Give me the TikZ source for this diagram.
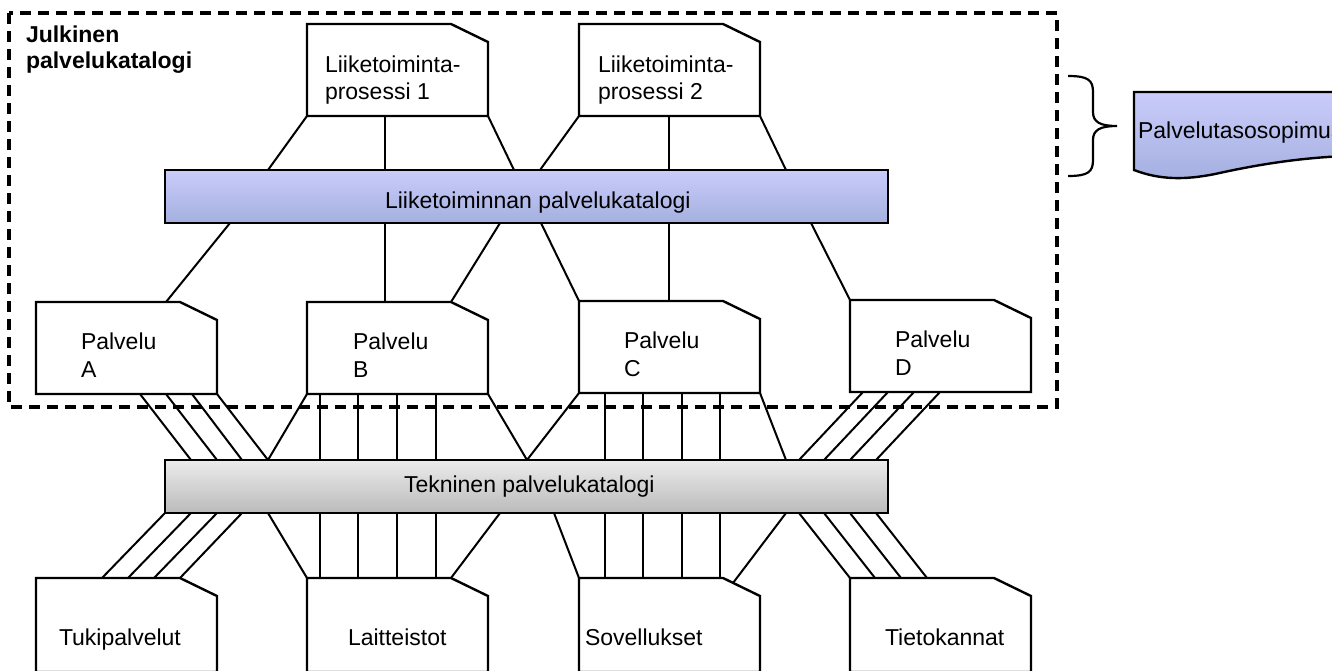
\documentclass[tikz,border=0pt]{standalone}
\usepackage{fontspec}
\setmainfont{Liberation Sans}
\definecolor{blueTop}{RGB}{202,204,250}
\definecolor{blueBot}{RGB}{164,176,224}
\definecolor{grayTop}{RGB}{236,236,236}
\definecolor{grayBot}{RGB}{186,186,186}
% outline of a box with a cut top-right corner, drawn round a holder node
\newcommand\cutframe[1]{%
  \draw[outline] (#1.south west) -- (#1.north west) -- ([xshift=-37]#1.north east)
    -- ([yshift=-18]#1.north east) -- (#1.south east) -- cycle;}
\begin{document}
\begin{tikzpicture}[x=1pt,y=-1pt,
  every node/.style={inner sep=0pt, outer sep=0pt},
  lbl/.style={anchor=base west, font=\fontsize{23}{27}\selectfont},
  ttl/.style={anchor=base west, font=\fontsize{23}{27}\selectfont\bfseries},
  holder/.style={rectangle, minimum width=181pt, minimum height=92pt},
  lowholder/.style={rectangle, minimum width=181pt, minimum height=94pt},
  outline/.style={line width=2.4pt, fill=white, line join=miter},
  link/.style={line width=2pt},
  catbar/.style={rectangle, draw, line width=2.6pt, minimum width=723pt, minimum height=53pt},
  catalogframe/.style={line width=3.2pt, dash pattern=on 11pt off 7pt},
]
\useasboundingbox (0,0) rectangle (1332,670);
\clip (0,0) rectangle (1332,670);

% public catalogue frame
\draw[catalogframe] (9,13) rectangle (1057,407);
\node[ttl] (title1) at (26,42) {Julkinen};
\node[ttl] (title2) at (26,68) {palvelukatalogi};

% holders for the boxes
\node[holder] (lp1) at (397.5,70) {};
\node[holder] (lp2) at (669.5,70) {};
\node[holder] (pa) at (126.5,348) {};
\node[holder] (pb) at (397.5,348) {};
\node[holder] (pc) at (669.5,347) {};
\node[holder] (pd) at (940.5,346) {};
\node[lowholder] (tu) at (126.5,625) {};
\node[lowholder] (la) at (397.5,625) {};
\node[lowholder] (so) at (669.5,625) {};
\node[lowholder] (ti) at (940.5,625) {};

% catalogue bars
\node[catbar, top color=blueTop, bottom color=blueBot] (lb) at (526.5,196.5) {};
\node[catbar, top color=grayTop, bottom color=grayBot] (tb) at (526.5,486.5) {};
\node[lbl] (lbtext) at (385,208) {Liiketoiminnan palvelukatalogi};
\node[lbl] (tbtext) at (404,492) {Tekninen palvelukatalogi};

% processes to business catalogue
\draw[link] (lp1.south west) -- ([xshift=103]lb.north west);
\draw[link] ([xshift=78]lp1.south west) -- ([xshift=220]lb.north west);
\draw[link] (lp1.south east) -- ([xshift=349]lb.north west);
\draw[link] (lp2.south west) -- ([xshift=375]lb.north west);
\draw[link] ([xshift=90]lp2.south west) -- ([xshift=504]lb.north west);
\draw[link] (lp2.south east) -- ([xshift=621]lb.north west);

% business catalogue to services
\draw[link] ([xshift=65]lb.south west) -- ([xshift=130]pa.north west);
\draw[link] ([xshift=220]lb.south west) -- ([xshift=78]pb.north west);
\draw[link] ([xshift=335]lb.south west) -- ([xshift=-37]pb.north east);
\draw[link] ([xshift=376]lb.south west) -- (pc.north west);
\draw[link] ([xshift=504]lb.south west) -- ([xshift=90]pc.north west);
\draw[link] ([xshift=646]lb.south west) -- (pd.north west);

% services to technical catalogue
\foreach \a/\b in {-77/26,-51/52,-25/77,0/103}
  \draw[link] ([xshift=\a]pa.south east) -- ([xshift=\b]tb.north west);
\draw[link] (pb.south west) -- ([xshift=103]tb.north west);
\foreach \a in {13,51,90,129}
  \draw[link] ([xshift=\a]pb.south west) -- ([xshift=\a]pb.south west |- tb.north);
\draw[link] (pb.south east) -- ([xshift=362]tb.north west);
\draw[link] (pc.south west) -- ([xshift=362]tb.north west);
\foreach \a in {26,64,103,141}
  \draw[link] ([xshift=\a]pc.south west) -- ([xshift=\a]pc.south west |- tb.north);
\draw[link] (pc.south east) -- ([xshift=621]tb.north west);
\foreach \a/\b in {13/634,38/659,64/685,90/711}
  \draw[link] ([xshift=\a]pd.south west) -- ([xshift=\b]tb.north west);

% technical catalogue to resources
\foreach \a/\b in {0/66,26/92,52/118,77/144}
  \draw[link] ([xshift=\a]tb.south west) -- ([xshift=\b]tu.north west);
\draw[link] ([xshift=103]tb.south west) -- (la.north west);
\foreach \a in {13,51,90,129}
  \draw[link] ([xshift=\a]la.north west |- tb.south) -- ([xshift=\a]la.north west);
\draw[link] ([xshift=335]tb.south west) -- ([xshift=-37]la.north east);
\draw[link] ([xshift=389]tb.south west) -- (so.north west);
\foreach \a in {26,64,103,141}
  \draw[link] ([xshift=\a]so.north west |- tb.south) -- ([xshift=\a]so.north west);
\draw[link] ([xshift=621]tb.south west) -- ([shift={(-27,5)}]so.north east);
\foreach \a/\b in {634/0,659/25,685/51,711/77}
  \draw[link] ([xshift=\a]tb.south west) -- ([xshift=\b]ti.north west);

% box outlines
\foreach \n in {lp1,lp2,pa,pb,pc,pd,tu,la,so,ti} {\cutframe{\n}}

% box texts
\node[lbl] (lp1a) at (325,72) {Liiketoiminta-};
\node[lbl] (lp1b) at (325,99) {prosessi 1};
\node[lbl] (lp2a) at (598,72) {Liiketoiminta-};
\node[lbl] (lp2b) at (598,99) {prosessi 2};
\node[lbl] (paa) at (81,349) {Palvelu};
\node[lbl] (pab) at (81,377) {A};
\node[lbl] (pba) at (353,349) {Palvelu};
\node[lbl] (pbb) at (353,377) {B};
\node[lbl] (pca) at (624,348) {Palvelu};
\node[lbl] (pcb) at (624,376) {C};
\node[lbl] (pda) at (895,347) {Palvelu};
\node[lbl] (pdb) at (895,375) {D};
\node[lbl] (tutext) at (59,645) {Tukipalvelut};
\node[lbl] (latext) at (348,645) {Laitteistot};
\node[lbl] (sotext) at (585,645) {Sovellukset};
\node[lbl] (titext) at (885,645) {Tietokannat};

% service level agreement document, running past the right edge, and its brace
\draw[line width=2.4pt, top color=blueTop, bottom color=blueBot]
  (1134,92) -- (1345,92) -- (1345,156)
  .. controls (1300,158) and (1260,164) .. (1215,174)
  .. controls (1185,180) and (1160,180) .. (1134,170) -- cycle;
\node[lbl] (sla) at (1138,138) {Palvelutasosopimus};
\draw[line width=2.2pt]
  (1068,76) .. controls (1088,76) and (1093,80) .. (1093,92) -- (1093,112)
  .. controls (1093,122) and (1100,126) .. (1117,126)
  .. controls (1100,126) and (1093,130) .. (1093,140) -- (1093,160)
  .. controls (1093,172) and (1088,176) .. (1068,176);
\end{tikzpicture}
\end{document}
